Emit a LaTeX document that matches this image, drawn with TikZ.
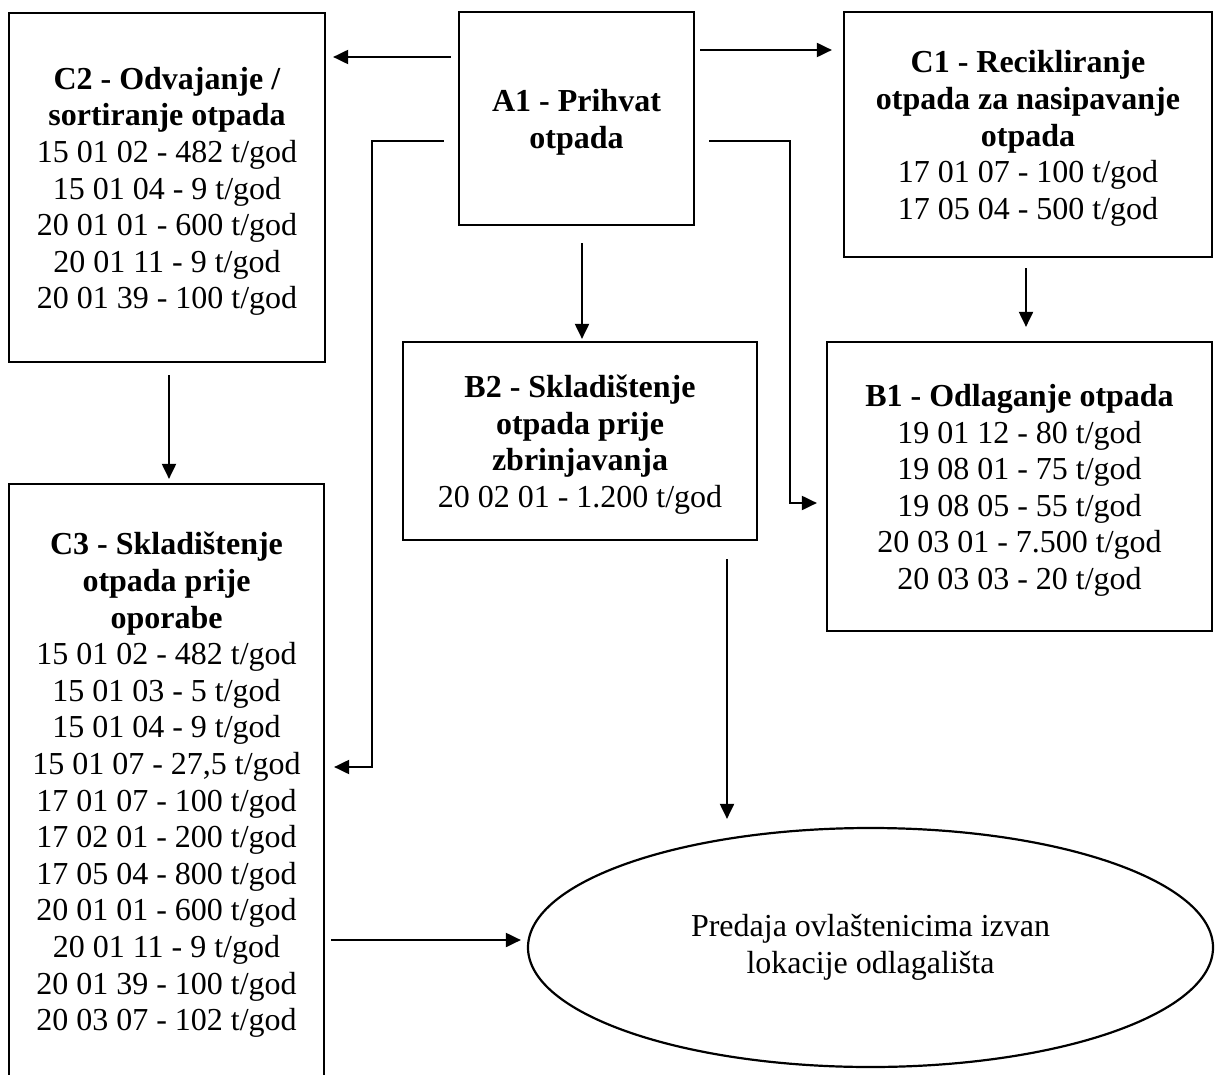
\documentclass[tikz,border=0pt]{standalone}
\usepackage{fontspec}
\setmainfont{Liberation Serif}
\usetikzlibrary{arrows.meta,calc,positioning,shapes.geometric}
\newcommand\toproom{\rule{0pt}{15pt}}

\begin{document}
\begin{tikzpicture}[x=0.5pt,y=-0.5pt,
  box/.style={draw,line width=1.1pt,align=center,inner sep=0pt,
    font=\fontsize{16pt}{18.3pt}\selectfont},
  arr/.style={line width=1pt,-{Triangle[length=7.5pt,width=7pt]}}]
  \clip (0,0) rectangle (1215,1075);
  % process boxes
  \node[box,minimum width=158pt,minimum height=174.5pt] (C2) at (167,187.5)
    {\toproom\textbf{C2 - Odvajanje /}\\\textbf{sortiranje otpada}\\15 01 02 - 482 t/god\\15 01 04 - 9 t/god\\20 01 01 - 600 t/god\\20 01 11 - 9 t/god\\20 01 39 - 100 t/god};
  \node[box,minimum width=117.5pt,minimum height=106.5pt] (A1) at (576.5,118.5)
    {\toproom\textbf{A1 - Prihvat}\\\textbf{otpada}};
  \node[box,minimum width=184pt,minimum height=122.5pt] (C1) at (1028,134.5)
    {\toproom\textbf{C1 - Recikliranje}\\\textbf{otpada za nasipavanje}\\\textbf{otpada}\\17 01 07 - 100 t/god\\17 05 04 - 500 t/god};
  \node[box,minimum width=177pt,minimum height=99pt] (B2) at (580,441)
    {\toproom\textbf{B2 - Skladištenje}\\\textbf{otpada prije}\\\textbf{zbrinjavanja}\\20 02 01 - 1.200 t/god};
  \node[box,minimum width=192.5pt,minimum height=144.5pt] (B1) at (1019.5,486.5)
    {\toproom\textbf{B1 - Odlaganje otpada}\\19 01 12 - 80 t/god\\19 08 01 - 75 t/god\\19 08 05 - 55 t/god\\20 03 01 - 7.500 t/god\\20 03 03 - 20 t/god};
  \node[box,minimum width=157.5pt,minimum height=301pt] (C3) at (166.5,785)
    {\textbf{C3 - Skladištenje}\\\textbf{otpada prije}\\\textbf{oporabe}\\15 01 02 - 482 t/god\\15 01 03 - 5 t/god\\15 01 04 - 9 t/god\\15 01 07 - 27,5 t/god\\17 01 07 - 100 t/god\\17 02 01 - 200 t/god\\17 05 04 - 800 t/god\\20 01 01 - 600 t/god\\20 01 11 - 9 t/god\\20 01 39 - 100 t/god\\20 03 07 - 102 t/god};
  \node[box,ellipse,minimum width=342.5pt,minimum height=119.5pt] (E) at (870.5,947.5)
    {Predaja ovlaštenicima izvan\\lokacije odlagališta};
  % flows out of A1
  \draw[arr,shorten <=3.5pt,shorten >=3.5pt] (A1.west |- 0,57) -- (C2.east |- 0,57);
  \draw[arr,shorten <=2.5pt,shorten >=5.5pt] (A1.east |- 0,50) -- (C1.west |- 0,50);
  \draw[arr,shorten <=8.5pt,shorten >=1pt] (A1.south -| 582,0) -- (B2.north -| 582,0);
  \draw[arr,shorten <=7pt,shorten >=4.5pt] (A1.west |- 0,141) -| (372,767) -- (C3.east |- 0,767);
  \draw[arr,shorten <=7pt,shorten >=4.5pt] (A1.east |- 0,141) -| (790,503) -- (B1.west |- 0,503);
  % other flows
  \draw[arr,shorten <=5pt,shorten >=7pt] (C1.south -| 1026,0) -- (B1.north -| 1026,0);
  \draw[arr,shorten <=6pt,shorten >=2pt] (C2.south -| 169,0) -- (C3.north -| 169,0);
  \draw[arr,shorten <=9pt,shorten >=4pt] (B2.south -| 727,0) -- (E.north -| 727,0);
  \draw[arr,shorten <=3pt,shorten >=3pt] (C3.east |- 0,940) -- (E.west |- 0,940);
\end{tikzpicture}
\end{document}
